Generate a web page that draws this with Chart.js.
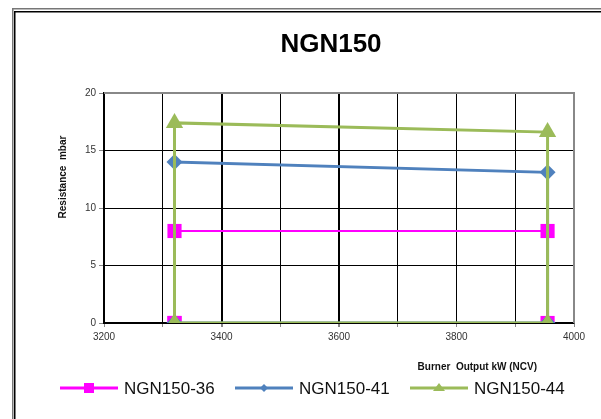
<!DOCTYPE html>
<html>
<head>
<meta charset="utf-8">
<script src="https://cdn.jsdelivr.net/npm/chart.js@4.4.0/dist/chart.umd.min.js"></script>
<style>
  html, body { margin: 0; padding: 0; background: #fff; }
  #wrap { width: 601px; height: 419px; }
</style>
</head>
<body>
<div id="wrap"><canvas id="myChart"></canvas></div>
<script>
// values (each series is a closed loop)
const outputKw = [3320, 3320, 3955, 3955, 3320];
const ngn36 = [0, 8, 8, 0, 0];
const ngn41 = [0, 14, 13.1, 0, 0];
const ngn44 = [0, 17.4, 16.6, 0, 0];
const seriesNames = ['NGN150-36', 'NGN150-41', 'NGN150-44'];
const seriesColors = ['#FF00FF', '#4F81BD', '#9BBB59'];
const labelledKw = [3200, 3400, 3600, 3800, 4000];
const thickGridKw = [3400, 3600];

const toPoints = ys => ys.map((y, i) => ({ x: outputKw[i], y: y }));

// frame, title, top/right border, axis titles and legend
const decor = {
    id: 'decor',
    beforeDraw(chart) {
        const c = chart.ctx;
        c.save();
        c.fillStyle = '#fff';
        c.fillRect(0, 0, chart.width, chart.height);
        c.fillStyle = '#777';
        c.fillRect(12, 8, chart.width, 1.5);
        c.fillRect(12, 8, 1.5, chart.height);
        c.fillStyle = '#000';
        c.fillRect(14, 11, chart.width, 1.5);
        c.fillRect(14, 11, 1.5, chart.height);
        c.restore();
    },
    beforeDatasetsDraw(chart) {
        const a = chart.chartArea;
        const c = chart.ctx;
        c.save();
        c.strokeStyle = '#888';
        c.lineWidth = 2;
        c.beginPath();
        c.moveTo(a.left, a.top);
        c.lineTo(a.right, a.top);
        c.lineTo(a.right, a.bottom);
        c.stroke();
        c.restore();
    },
    afterDraw(chart) {
        const c = chart.ctx;
        c.save();
        // chart title
        c.fillStyle = '#000';
        c.font = 'bold 26px Arial';
        c.textAlign = 'center';
        c.textBaseline = 'middle';
        c.fillText('NGN150', 331, 45);
        // axis titles
        c.fillStyle = '#111';
        c.font = 'bold 10px Arial';
        c.textAlign = 'right';
        c.fillText('Burner  Output kW (NCV)', 537, 367);
        c.translate(63, 177);
        c.rotate(-Math.PI / 2);
        c.textAlign = 'center';
        c.fillText('Resistance  mbar', 0, 0);
        c.restore();

        // legend
        const y = 388;
        const starts = [60, 235, 410];
        c.save();
        c.font = '17px Arial';
        c.textBaseline = 'middle';
        c.textAlign = 'left';
        seriesNames.forEach((name, i) => {
            const x0 = starts[i], x1 = x0 + 58, mx = x0 + 29;
            c.strokeStyle = seriesColors[i];
            c.fillStyle = seriesColors[i];
            c.lineWidth = 3;
            c.beginPath();
            c.moveTo(x0, y);
            c.lineTo(x1, y);
            c.stroke();
            c.beginPath();
            if (i === 0) {
                c.rect(mx - 5, y - 5, 10, 10);
            } else if (i === 1) {
                c.moveTo(mx, y - 4); c.lineTo(mx + 4, y); c.lineTo(mx, y + 4); c.lineTo(mx - 4, y);
            } else {
                c.moveTo(mx, y - 5); c.lineTo(mx + 6, y + 3); c.lineTo(mx - 6, y + 3);
            }
            c.closePath();
            c.fill();
            c.fillStyle = '#111';
            c.fillText(name, x1 + 6, y + 1);
        });
        c.restore();
    }
};

const ctx = document.getElementById('myChart');
new Chart(ctx, {
    type: 'scatter',
    data: {
        datasets: [{
            label: seriesNames[0],
            data: toPoints(ngn36),
            showLine: true,
            borderColor: seriesColors[0],
            backgroundColor: seriesColors[0],
            borderWidth: 2,
            pointStyle: 'rect',
            pointRadius: 10,
            pointBorderWidth: 0,
            order: 2
        }, {
            label: seriesNames[1],
            data: toPoints(ngn41),
            showLine: true,
            borderColor: seriesColors[1],
            backgroundColor: seriesColors[1],
            borderWidth: 3,
            pointStyle: 'rectRot',
            pointRadius: 8,
            pointBorderWidth: 0,
            order: 1
        }, {
            label: seriesNames[2],
            data: toPoints(ngn44),
            showLine: true,
            borderColor: seriesColors[2],
            backgroundColor: seriesColors[2],
            borderWidth: 3,
            pointStyle: 'triangle',
            pointRadius: 10,
            pointBorderWidth: 0,
            order: 0
        }]
    },
    options: {
        responsive: true,
        maintainAspectRatio: false,
        animation: false,
        layout: { padding: { left: 0, right: 27, top: 93, bottom: 66 } },
        plugins: {
            legend: { display: false },
            tooltip: { enabled: false },
            title: { display: false }
        },
        scales: {
            x: {
                type: 'linear',
                min: 3200,
                max: 4000,
                afterFit: s => { s.height = 30; },
                ticks: {
                    stepSize: 100,
                    autoSkip: false,
                    maxRotation: 0,
                    padding: 4,
                    color: '#333',
                    font: { family: 'Arial', size: 10 },
                    callback: v => labelledKw.includes(v) ? String(v) : ''
                },
                grid: {
                    color: '#000',
                    lineWidth: c => thickGridKw.includes(c.tick && c.tick.value) ? 2 : 1,
                    tickLength: 4,
                    tickColor: '#888'
                },
                border: { color: '#000', width: 1.5 }
            },
            y: {
                min: 0,
                max: 20,
                afterFit: s => { s.width = 104; },
                ticks: {
                    stepSize: 5,
                    padding: 3,
                    color: '#333',
                    font: { family: 'Arial', size: 10 }
                },
                grid: {
                    color: '#000',
                    lineWidth: 1,
                    tickLength: 5,
                    tickColor: '#888'
                },
                border: { color: '#000', width: 2 }
            }
        }
    },
    plugins: [decor]
});
</script>
</body>
</html>
